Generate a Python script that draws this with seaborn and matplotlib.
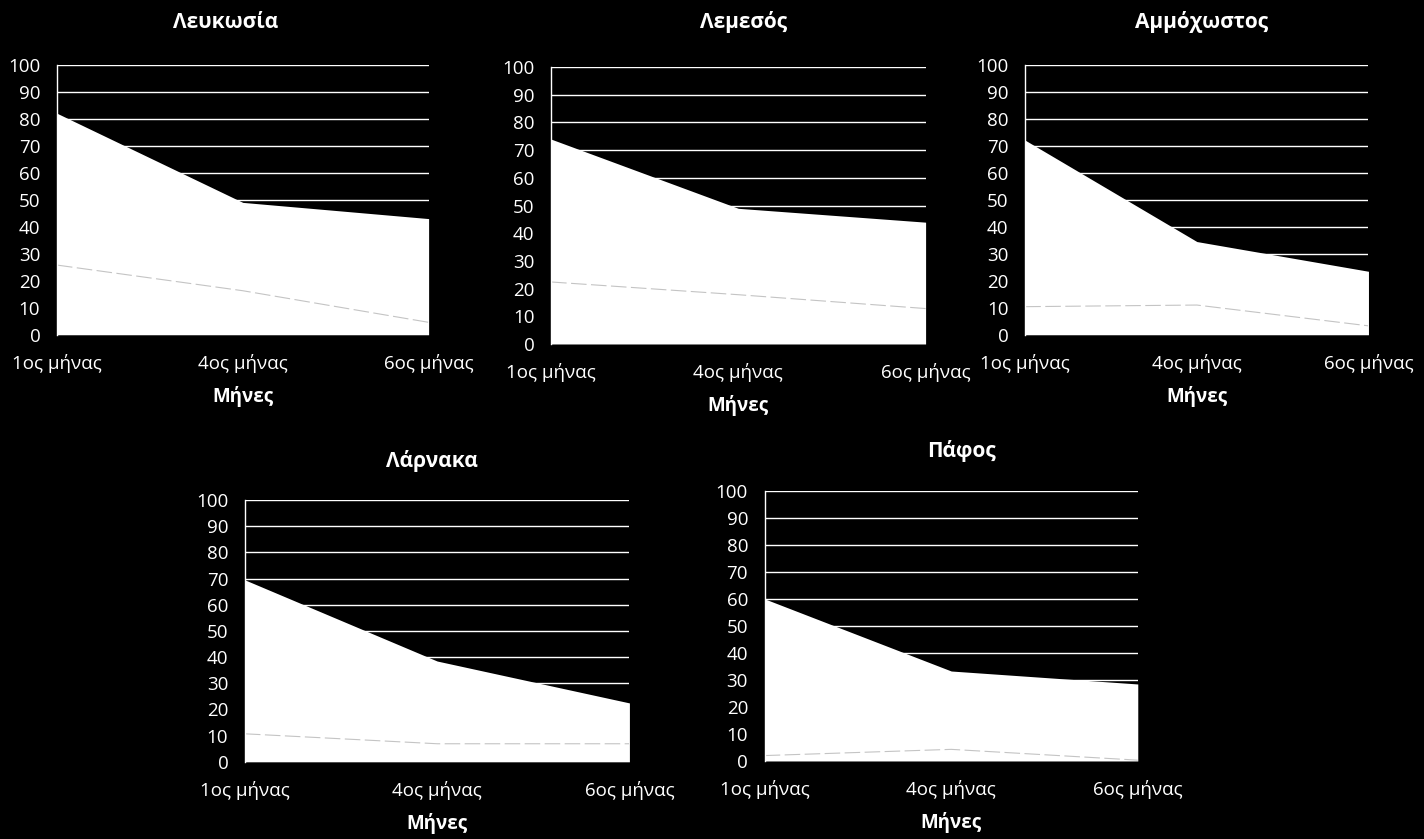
import pandas as pd
import seaborn as sns
import matplotlib.pyplot as plt

months = ["1ος μήνας", "4ος μήνας", "6ος μήνας"]
cities = ["Λευκωσία", "Λεμεσός", "Αμμόχωστος", "Λάρνακα", "Πάφος"]

# upper series (white area)
lefkosia_top = [82, 49, 43]
lemesos_top = [74, 49, 44]
ammochostos_top = [72, 34.5, 23.5]
larnaka_top = [69.5, 38.5, 22.5]
pafos_top = [60, 33.3, 28.5]

# lower series (dashed grey line)
lefkosia_low = [25.8, 16.3, 4.6]
lemesos_low = [22.4, 17.8, 12.8]
ammochostos_low = [10.4, 11, 3.3]
larnaka_low = [10.7, 6.9, 6.9]
pafos_low = [2, 4.3, 0.3]

tops = [lefkosia_top, lemesos_top, ammochostos_top, larnaka_top, pafos_top]
lows = [lefkosia_low, lemesos_low, ammochostos_low, larnaka_low, pafos_low]

# axes rectangles in figure fractions
boxes = [
    [0.040, 0.601, 0.261, 0.322],
    [0.387, 0.590, 0.263, 0.330],
    [0.720, 0.601, 0.241, 0.322],
    [0.172, 0.092, 0.270, 0.312],
    [0.537, 0.093, 0.262, 0.322],
]
# title centre, as a fraction of the axes width
title_x = [0.455, 0.515, 0.515, 0.487, 0.527]
title_pad = [26, 28, 26, 24, 24]

sns.set_style('dark', {
    'axes.facecolor': 'black',
    'figure.facecolor': 'black',
    'axes.edgecolor': 'white',
    'text.color': 'white',
    'xtick.color': 'white',
    'ytick.color': 'white',
    'axes.labelcolor': 'white',
})
plt.rcParams['font.family'] = ['Open Sans', 'DejaVu Sans']

fig = plt.figure(figsize=(14.24, 8.39), dpi=100)

for i, (city, top, low, box) in enumerate(zip(cities, tops, lows, boxes)):
    ax = fig.add_axes(box)
    df = pd.DataFrame({"pos": range(len(months)), "top": top, "low": low})

    for y in range(10, 101, 10):
        ax.axhline(y, color='white', lw=1.0, zorder=1)
    ax.fill_between(df["pos"], 0, df["top"], color='white', lw=0, zorder=2)
    sns.lineplot(data=df, x="pos", y="low", ax=ax, color='#c4c4c4',
                 lw=0.8, dashes=False, linestyle=(0, (14, 4)), zorder=3)

    ax.set_xlim(0, 2)
    ax.set_ylim(0, 100)
    ax.set_yticks(range(0, 101, 10))
    ax.set_xticks(df["pos"])
    ax.set_xticklabels(months)
    ax.tick_params(axis='both', length=0, labelsize=13.5)
    ax.tick_params(axis='x', pad=14)
    ax.tick_params(axis='y', pad=12)
    for s in ['top', 'right', 'bottom']:
        ax.spines[s].set_visible(False)
    ax.spines['left'].set_color('white')
    ax.spines['left'].set_linewidth(1.0)
    ax.spines['left'].set_zorder(4)
    ax.grid(False)

    ax.set_title(city, fontsize=15, fontweight='bold', x=title_x[i], pad=title_pad[i])
    ax.set_xlabel("Μήνες", fontsize=13.5, fontweight='bold', labelpad=9)
    ax.set_ylabel("")

fig.savefig("out.png", dpi=100, facecolor='black')
